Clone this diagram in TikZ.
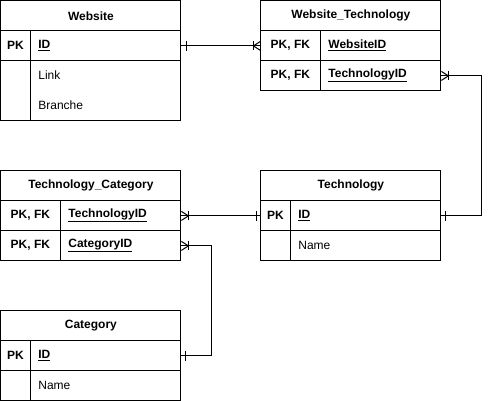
\documentclass[tikz,border=0pt]{standalone}
\usepackage{fontspec}
\setmainfont{Liberation Sans}
\usetikzlibrary{calc}
\begin{document}
\begin{tikzpicture}[x=1pt,y=-1pt,line width=1pt,
  cell/.style={draw,minimum width=180pt,minimum height=30pt,inner sep=0pt,anchor=north west},
  box/.style={draw,inner sep=0pt,anchor=north west},
  title/.style={font=\fontsize{12}{14}\selectfont\bfseries},
  key/.style={font=\fontsize{12}{14}\selectfont\bfseries},
  fld/.style={font=\fontsize{12}{14}\selectfont,anchor=west,inner sep=0pt},
  kfld/.style={font=\fontsize{12}{14}\selectfont\bfseries,anchor=west,inner sep=0pt},
  conn/.style={draw,line width=1pt}]
\useasboundingbox (0.1,0.1) rectangle (490.1,401.1);

% ---- Website
\node[cell] (webT) at (0.5,0.5) {};
\node[title] at (webT.center) {Website};
\node[cell] (webID) at (0.5,30.5) {};
\node[box,minimum width=180pt,minimum height=60pt] (webRest) at (0.5,60.5) {};
\draw (30.5,30.5) -- (30.5,120.5);
\node[key] at (15.5,45.5) {PK};
\node[kfld] at (38,45.5) {\underline{ID}};
\node[fld] at (38,75.5) {Link};
\node[fld] at (38,105.5) {Branche};

% ---- Website_Technology
\node[cell] (wtT) at (260.5,0.5) {};
\node[title] at (wtT.center) {Website\_Technology};
\node[cell] (wtW) at (260.5,30.5) {};
\node[cell] (wtTe) at (260.5,60.5) {};
\draw (320.5,30.5) -- (320.5,90.5);
\node[key] at (290.5,45.5) {PK, FK};
\node[key] at (290.5,75.5) {PK, FK};
\node[kfld] at (328,45.5) {\underline{WebsiteID}};
\node[kfld] at (328,75.5) {\underline{TechnologyID}};

% ---- Technology_Category
\node[cell] (tcT) at (0.5,170.5) {};
\node[title] at (tcT.center) {Technology\_Category};
\node[cell] (tcTe) at (0.5,200.5) {};
\node[cell] (tcC) at (0.5,230.5) {};
\draw (60.5,200.5) -- (60.5,260.5);
\node[key] at (30.5,215.5) {PK, FK};
\node[key] at (30.5,245.5) {PK, FK};
\node[kfld] at (68,215.5) {\underline{TechnologyID}};
\node[kfld] at (68,245.5) {\underline{CategoryID}};

% ---- Technology
\node[cell] (teT) at (260.5,170.5) {};
\node[title] at (teT.center) {Technology};
\node[cell] (teID) at (260.5,200.5) {};
\node[cell] (teN) at (260.5,230.5) {};
\draw (290.5,200.5) -- (290.5,260.5);
\node[key] at (275.5,215.5) {PK};
\node[kfld] at (298,215.5) {\underline{ID}};
\node[fld] at (298,245.5) {Name};

% ---- Category
\node[cell] (caT) at (0.5,310.5) {};
\node[title] at (caT.center) {Category};
\node[cell] (caID) at (0.5,340.5) {};
\node[cell] (caN) at (0.5,370.5) {};
\draw (30.5,340.5) -- (30.5,400.5);
\node[key] at (15.5,355.5) {PK};
\node[kfld] at (38,355.5) {\underline{ID}};
\node[fld] at (38,385.5) {Name};

% ---- connectors
% Website.ID -- Website_Technology.WebsiteID
\draw[conn] (webID.east) -- (wtW.west);
\draw ($(webID.east)+(5,-5)$) -- ++(0,10);
\draw ($(wtW.west)+(-7,-4.5)$) -- ++(0,9);
\draw ($(wtW.west)+(0,-4.5)$) -- ($(wtW.west)+(-7,0)$) -- ($(wtW.west)+(0,4.5)$);

% Technology.ID -- Website_Technology.TechnologyID
\coordinate (r1) at ($(teID.east)+(40,0)$);
\coordinate (r2) at ($(wtTe.east)+(40,0)$);
\draw[conn] (teID.east) -- (r1) -- (r2) -- (wtTe.east);
\draw ($(teID.east)+(4,-5)$) -- ++(0,10);
\draw ($(wtTe.east)+(7,-4.5)$) -- ++(0,9);
\draw ($(wtTe.east)+(0,-4.5)$) -- ($(wtTe.east)+(7,0)$) -- ($(wtTe.east)+(0,4.5)$);

% Technology_Category.TechnologyID -- Technology.ID
\draw[conn] (tcTe.east) -- (teID.west);
\draw ($(teID.west)+(-4,-5)$) -- ++(0,10);
\draw ($(tcTe.east)+(7,-4.5)$) -- ++(0,9);
\draw ($(tcTe.east)+(0,-4.5)$) -- ($(tcTe.east)+(7,0)$) -- ($(tcTe.east)+(0,4.5)$);

% Technology_Category.CategoryID -- Category.ID
\coordinate (s1) at ($(tcC.east)+(30,0)$);
\coordinate (s2) at ($(caID.east)+(30,0)$);
\draw[conn] (tcC.east) -- (s1) -- (s2) -- (caID.east);
\draw ($(caID.east)+(4,-5)$) -- ++(0,10);
\draw ($(tcC.east)+(7,-4.5)$) -- ++(0,9);
\draw ($(tcC.east)+(0,-4.5)$) -- ($(tcC.east)+(7,0)$) -- ($(tcC.east)+(0,4.5)$);
\end{tikzpicture}
\end{document}
